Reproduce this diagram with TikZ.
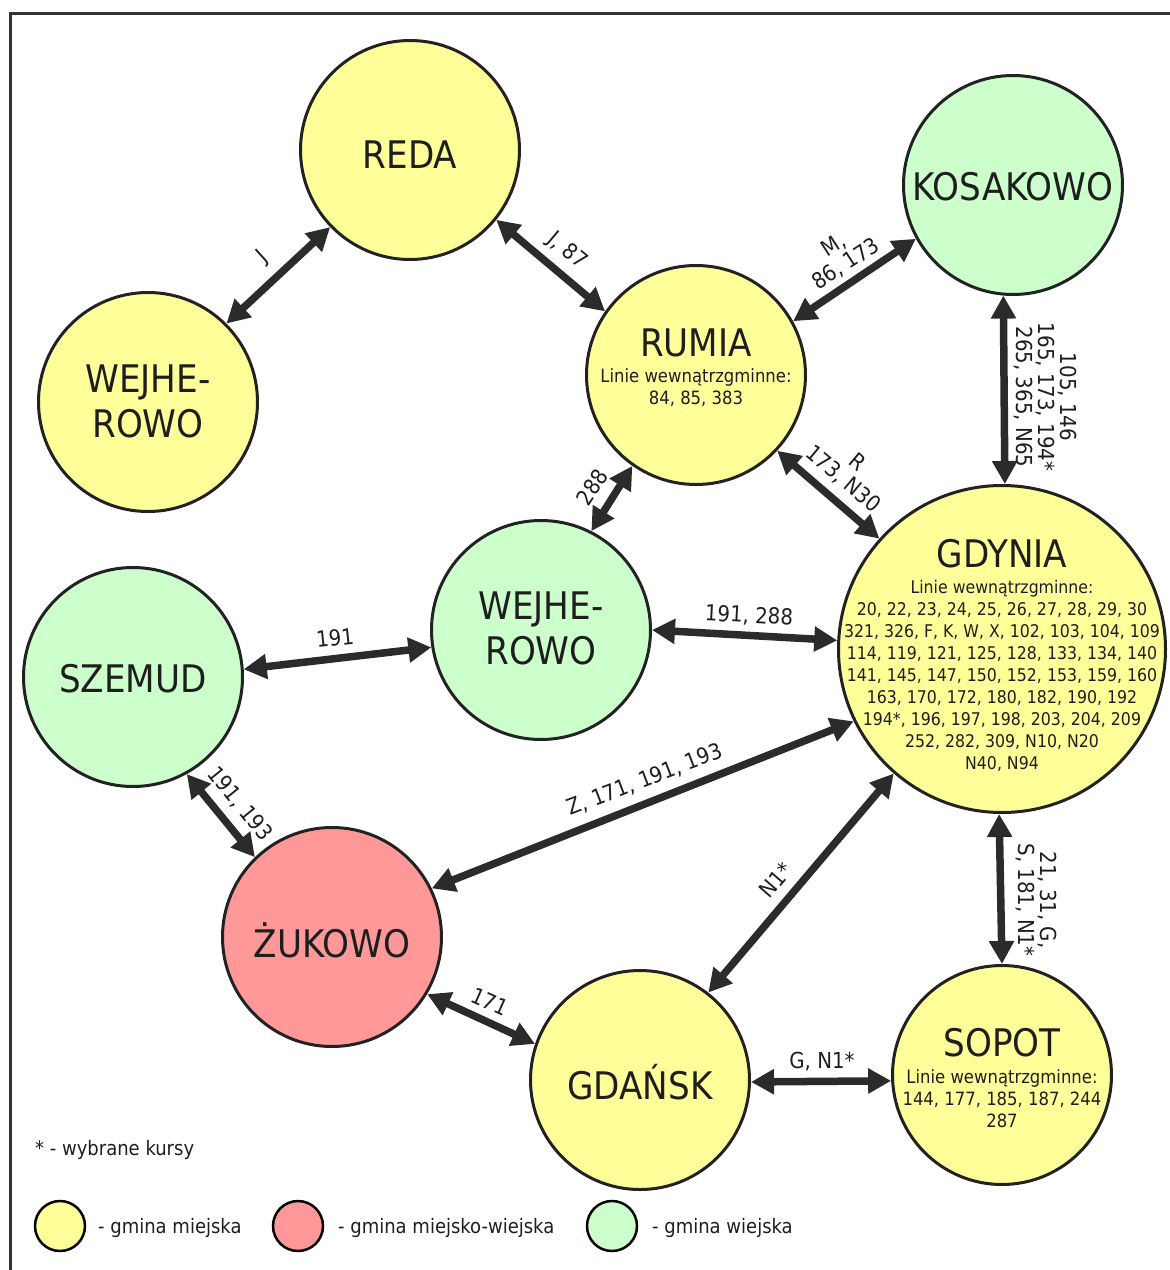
\documentclass[tikz,border=0pt]{standalone}
\usepackage{fontspec}
\setmainfont{DejaVu Sans Condensed}
\usetikzlibrary{arrows.meta}
\definecolor{cyel}{HTML}{FFFF99}
\definecolor{cgrn}{HTML}{CCFFCC}
\definecolor{cred}{HTML}{FF9999}
\definecolor{cline}{HTML}{222222}
\definecolor{carr}{HTML}{2B2B2B}
\definecolor{ctxt}{HTML}{1E1E1E}
\begin{document}
\begin{tikzpicture}[x=1pt,y=-1pt,
  city/.style={circle, draw=cline, line width=3pt, inner sep=0pt, minimum size=219pt},
  big/.style={minimum size=327pt},
  title/.style={font=\fontsize{38}{45}\selectfont, text=ctxt, align=center, inner sep=0pt},
  body/.style={font=\fontsize{17.5}{22}\selectfont, text=ctxt, align=center, inner sep=0pt},
  bodyb/.style={font=\fontsize{18.3}{22}\selectfont, text=ctxt, align=center, inner sep=0pt},
  lbl/.style={font=\fontsize{22}{22}\selectfont, text=ctxt, align=center, inner sep=0pt},
  legtxt/.style={font=\fontsize{20}{24}\selectfont, text=ctxt, anchor=west, inner sep=0pt},
  legc/.style={circle, draw=black, line width=2.5pt, inner sep=0pt, minimum size=50pt},
  link/.style={line width=7.5pt, draw=carr, {Triangle[length=23pt,width=24pt]}-{Triangle[length=23pt,width=24pt]}, shorten <=0pt, shorten >=0pt}
]
\useasboundingbox (0,0) rectangle (1170,1270);
% frame
\draw[line width=3pt, draw=black!80] (10,1272) -- (10,13) -- (1172,13);

% circles
\node[city, fill=cyel] (reda) at (410,150) {};
\node[city, fill=cgrn] (kos) at (1013,185) {};
\node[city, fill=cyel] (wejc) at (148,402) {};
\node[city, fill=cyel] (rumia) at (696,375) {};
\node[city, fill=cyel, big] (gdynia) at (1002,649) {};
\node[city, fill=cgrn] (wejg) at (541,630) {};
\node[city, fill=cgrn] (szemud) at (133,677) {};
\node[city, fill=cred] (zukowo) at (332,937) {};
\node[city, fill=cyel] (gdansk) at (640,1080) {};
\node[city, fill=cyel] (sopot) at (1002,1075) {};

% texts in circles
\node[title] (tReda) at (410,155) {REDA};
\node[title] (tKos) at (1013,187) {KOSAKOWO};
\node[title] (tWejc) at (148,401) {WEJHE-\\ROWO};
\node[title] (tRumia) at (696,343) {RUMIA};
\node[bodyb] (bRumia) at (696,388) {Linie wewnątrzgminne:\\84, 85, 383};
\node[title] (tGdynia) at (1002,554) {GDYNIA};
\node[body] (bGdynia) at (1002,676) {Linie wewnątrzgminne:\\
20, 22, 23, 24, 25, 26, 27, 28, 29, 30\\
321, 326, F, K, W, X, 102, 103, 104, 109\\
114, 119, 121, 125, 128, 133, 134, 140\\
141, 145, 147, 150, 152, 153, 159, 160\\
163, 170, 172, 180, 182, 190, 192\\
194*, 196, 197, 198, 203, 204, 209\\
252, 282, 309, N10, N20\\
N40, N94};
\node[title] (tWejg) at (541,628) {WEJHE-\\ROWO};
\node[title] (tSzemud) at (133,679) {SZEMUD};
\node[title] (tZukowo) at (332,940) {ŻUKOWO};
\node[title] (tGdansk) at (640,1082) {GDAŃSK};
\node[title] (tSopot) at (1002,1043) {SOPOT};
\node[bodyb] (bSopot) at (1002,1099) {Linie wewnątrzgminne:\\144, 177, 185, 187, 244\\287};

% connectors
\draw[link] (wejc.45.7) -- (reda.224.3);
\draw[link] (reda.-39.8) -- (rumia.145.3);
\draw[link] (rumia.29.9) -- (kos.209.6);
\draw[link] (kos.265) -- (gdynia.89.3);
\draw[link] (rumia.-43.6) -- (gdynia.138.7);
\draw[link] (rumia.-125.1) -- (wejg.63.7);
\draw[link] (szemud.4.5) -- (wejg.189);
\draw[link] (wejg.0) -- (gdynia.177.6);
\draw[link] (zukowo.26.3) -- (gdynia.206.9);
\draw[link] (szemud.-61.2) -- (zukowo.134.3);
\draw[link] (gdynia.229.3) -- (gdansk.52.8);
\draw[link] (gdynia.269.7) -- (sopot.90);
\draw[link] (zukowo.-31.9) -- (gdansk.161.1);
\draw[link] (gdansk.-1) -- (sopot.183.5);

% connector labels
\node[lbl, rotate=42] (l1) at (263,257) {J};
\node[lbl, rotate=-40] (l2) at (567,251) {J, 87};
\node[lbl, rotate=33] (l3) at (840,255) {M,\\86, 173};
\node[lbl, rotate=-90] (l4) at (1045,397) {105, 146\\165, 173, 194*\\265, 365, N65};
\node[lbl, rotate=-40] (l5) at (850,471) {R\\173, N30};
\node[lbl, rotate=57] (l6) at (592,487) {288};
\node[lbl, rotate=6] (l7) at (335,638) {191};
\node[lbl, rotate=-3] (l8) at (749,616) {191, 288};
\node[lbl, rotate=21] (l9) at (645,780) {Z, 171, 191, 193};
\node[lbl, rotate=-51] (l10) at (240,804) {191, 193};
\node[lbl, rotate=49] (l11) at (776,880) {N1*};
\node[lbl, rotate=-90] (l12) at (1036,900) {21, 31, G,\\S, 181, N1*};
\node[lbl, rotate=-24] (l13) at (490,1002) {171};
\node[lbl] (l14) at (822,1062) {G, N1*};

% legend
\node[legtxt] (note) at (35,1150) {* - wybrane kursy};
\node[legc, fill=cyel] (lg1) at (60,1226) {};
\node[legtxt] (lt1) at (98,1228) {- gmina miejska};
\node[legc, fill=cred] (lg2) at (298,1226) {};
\node[legtxt] (lt2) at (338,1228) {- gmina miejsko-wiejska};
\node[legc, fill=cgrn] (lg3) at (612,1226) {};
\node[legtxt] (lt3) at (652,1228) {- gmina wiejska};
\end{tikzpicture}
\end{document}
